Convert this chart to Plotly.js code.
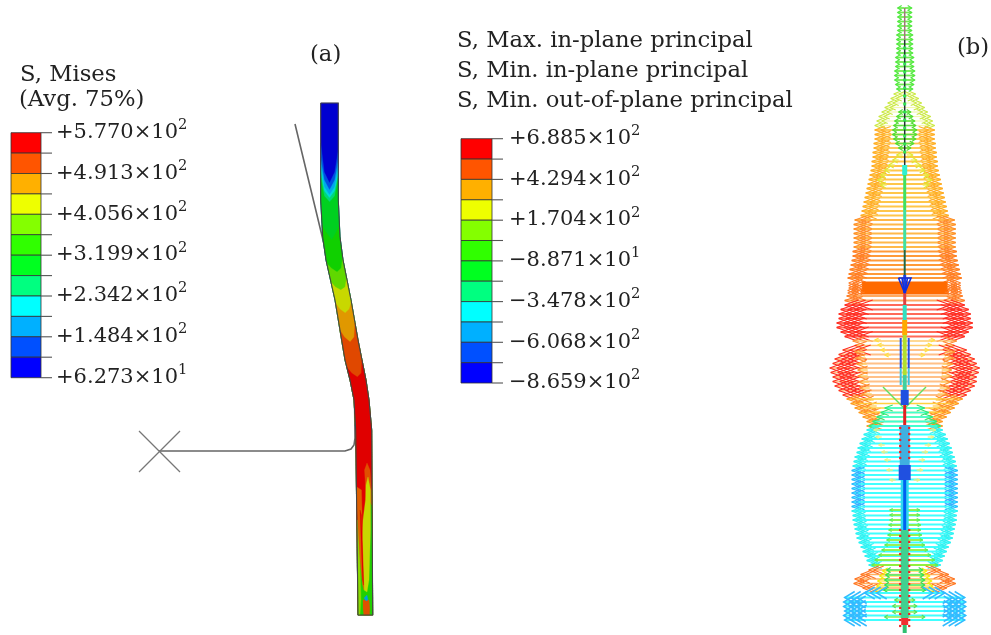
<!DOCTYPE html>
<html><head><meta charset="utf-8">
<script src="https://cdn.plot.ly/plotly-3.0.1.min.js"></script>
<style>html,body{margin:0;padding:0;background:#fff}#c{width:991px;height:635px}#c svg.main-svg{filter:blur(.45px)}</style></head>
<body><div id="c"></div>
<script>
// ---------- legends ----------
const legendColors=['#ff0000','#ff5500','#ffb000','#eeff00','#84ff00','#30ff00','#00ff20','#00ff80','#00ffff','#00b0ff','#0050ff','#0000ff'];
const misesLabels=['+5.770×10<sup>2</sup>','+4.913×10<sup>2</sup>','+4.056×10<sup>2</sup>','+3.199×10<sup>2</sup>','+2.342×10<sup>2</sup>','+1.484×10<sup>2</sup>','+6.273×10<sup>1</sup>'];
const principalLabels=['+6.885×10<sup>2</sup>','+4.294×10<sup>2</sup>','+1.704×10<sup>2</sup>','−8.871×10<sup>1</sup>','−3.478×10<sup>2</sup>','−6.068×10<sup>2</sup>','−8.659×10<sup>2</sup>'];
const misesTicks=[132.7,153.1,173.5,193.9,214.3,234.7,255.2,275.6,296,316.4,336.8,357.2,377.7];
const principalTicks=[138.7,159.1,179.4,199.8,220.2,240.5,260.9,281.2,301.6,322,342.3,362.7,383];
const titleLines=[['S, Mises',20,75],['(Avg. 75%)',19,100],['S, Max. in-plane principal',457,41],['S, Min. in-plane principal',457,71],['S, Min. out-of-plane principal',457,101],['(a)',310,55],['(b)',957,48]];

// ---------- panel (a): strip ----------
const stripY=[103,200,237,260,300,340,360,380,400,430,615];
const stripL=[320.7,320.7,322.7,326,335,341.5,345,350,354,355.7,358];
const stripR=[338.3,338.3,340,343,351,358,362,366,369,371.7,372.7];
const contourColors=['#0000d0','#0050e0','#00a8e8','#00d8d8','#00d878','#00d020','#10d000','#60d800','#c8d800','#e09800','#e04800','#e00000'];
const contourLeftY =[103,143,158,165,172,178,225,263,282,303,330,367];
const contourSideY =[103,172,180,187,191,196,232,268,287,309,337,373];
const contourMidY  =[103,183,190,195,198,202,240,272,290,313,342,377];
const contourRightY=[103,150,160,168,174,178,225,257,278,302,323,360];
const flameGreenX=[371.8,372.7,358,357.5,362,366,369],flameGreenY=[490,615,615,540,560,560,500];
const flameRightX=[367,370,371.5,371.7,366,365,364.5],flameRightY=[463,470,490,505,495,480,470];
const flameYellowX=[368,370.5,370.5,369,367,364,362,363,365.5,366],flameYellowY=[477,490,530,580,592,590,540,520,500,485];
const flameEdgeX=[357,359,360,361,360,358.5,358],flameEdgeY=[520,520,560,600,615,615,560];
const flameOrangeX=[356.8,361.5,362,362.3,364,362.5,360,358.5,357],flameOrangeY=[487,490,510,540,590,585,560,530,510];
const flameRedX=[360,361.5,362.2,363.6,362.6,361],flameRedY=[510,515,540,585,580,545];
const flameFootX=[363,369,369.8,369.5,363.8,363],flameFootY=[600,600,608,615,615,608];
const flameCoreX=[364,367,368,366],flameCoreY=[598,595,600,601];
const contactX=[295,305,315,323,330,338,346,352,354.5,355,354,351,345,159];
const contactY=[124,165,205,240,270,303,340,372,395,438,445,449,451,451];
const crossX=[139,180,null,180,139],crossY=[431,472,null,431,472];

// ---------- panel (b): arrows rows ----------
const centreX=[904.7];
const topGreenY=[8,12.5,17,21.5,26,30.5,35,39.5,44,48.5,53,57.5,62,66.5,71,75.5,80,84.5,89];
const topGreenW=[7,7,7,7,7,7,8,8,8,8,8,9,9,9,10,10,10,9,8];
const shoulderY=[94,98.5,103,107.5,112,116.5,121,125.5];
const shoulderW=[11,14,17,20,23,26,28,30];
const lensY=[112,116.5,121,125.5,130,134.5,139,143.5,148];
const lensW=[6,8,10,11,12,12,11,9,6];
const orangeY=[130,134.5,139,143.5,148,152.5,157,161.5,166,170.5,175,179.5,184,188.5,193,197.5,202,206.5,211,215.5];
const orangeW=[30,30,30,31,31,32,32,33,33,34,35,36,37,38,39,40,41,42,43,44];
const yellowInY=[155,160,165,170,175,180,185];
const yellowInW=[8,12,16,20,24,27,24];
const orangeAY=[220,224.5,229,233.5,238,242.5,247];
const orangeAW=[50,51,51,51,51,51,51];
const orangeBY=[251.5,256,260.5,265,269.5,274,278];
const orangeBW=[52,52,53,54,55,56,57];
const solidY=[283,285.5,288,290.5,293];
const solidW=[56,56,56,57,57];
const orangeCY=[296,300.5];
const orangeCW=[58,60];
const redAY=[305,309.5,314,318.5,323,327.5,332,336.5];
const redAW=[60,64,66,66,68,68,64,60];
const orangeDY=[341,345.5];
const orangeDW=[52,50];
const yellowMidY=[340,345,350,355];
const yellowMidW=[30,27,24,20];
const redBY=[350,354.5,359,363.5,368,372.5,377,381.5,386,390.5,395];
const redBW=[62,66,70,72,75,74,72,72,70,66,62];
const innerOrY=[352,358,364,370,376,382,388,394,400,406,412];
const innerOrW=[50,49,48,47,47,46,45,43,41,38,34];
const taperY=[399,403.5,408,412.5,417,421.5,426];
const taperW=[58,54,50,46,42,38,38];
const cyanTopY=[408,412.5,417,421.5,426];
const cyanTopW=[20,24,28,32,36];
const lensTopY=[430,434.5,439,443.5,448,452.5,457,461.5,466];
const lensTopW=[38,41,43,45,47,48,50,51,52];
const lensMidY=[470.5,475,479.5,484,488.5,493,497.5,502,506.5];
const lensMidW=[53,53,53,53,53,53,53,53,53];
const lensBotY=[511,515.5,520,524.5,529,533.5,538,542.5,547,551.5,556,560.5,565];
const lensBotW=[53,52,52,51,50,49,48,46,44,42,40,38,36];
const yellowLensY=[430,437,445,452,460,470,480];
const yellowLensW=[31,29,26,23,20,18,15];
const greenInY=[510,515,520,525,530,535,540,545,550,555,560,565];
const greenInW=[15,15,15,16,16,17,18,20,23,26,30,33];
const footOrY=[570,574.5,579,583.5,588];
const footOrW=[36,44,50,51,42];
const footYelY=[571,576,581,586,590];
const footYelW=[22,25,27,28,30];
const footGrnY=[570,575,580,585,590];
const footGrnW=[18,19,20,20,21];
const footBlueY=[593,597.5,602,606.5,611,615.5,620];
const footBlueW=[40,60,61,61,60,61,60];
const footSmallY=[600,606,612,617];
const footSmallW=[10,12,12,20];

// spine segments
const spineY0=[8,40,165,175,210,250,275,293,305,320,335,375,390,405,425,465,480,480,530,618,625];
const spineY1=[40,165,175,210,250,275,293,305,320,335,375,390,405,425,465,480,530,530,618,625,633];
const spineC=['#a07878','#223333','#30f0d0','#40e060','#40e0a0','#226644','#2040e0','#e04040','#30e0c0','#ffaa00','#b0e030','#40d0a0','#2050e0','#e02020','#40b0e0','#2050e0','#30d8f0','#0060f0','#40d090','#f03030','#30c070'];
const spineW=[1.5,1.5,5,3,3,2,3,3,4,5,4,4,8,3,10,12,8,3,8,7,4];
const sideY0=[338,368];
const sideY1=[368,385];
const sideC=['#2050e0','#40c0e0'];
const spineDotY=[48,56,64,72,80,88,96,104,112,120,128,136,144,152];
const redDotY=[428,434,440,446,452,458,530,536,542,548,554,560,566,572,578,584,590,596,602,608,614,620,626];
const blueHeadX=[898.5,904.7,911,898.5,null,902,904.7,907.5],blueHeadY=[278,293,278,278,null,278,293,278];
const diagX=[883,903,null,926,906],diagY=[387,407,null,387,407];

const x0=centreX[0];
const traces=[];
function line(x,y,color,width,extra){traces.push(Object.assign({type:'scatter',mode:'lines',x,y,line:{color,width},hoverinfo:'skip',showlegend:false},extra||{}));}
function poly(x,y,color){traces.push({type:'scatter',mode:'lines',x:x.concat([x[0]]),y:y.concat([y[0]]),fill:'toself',fillcolor:color,line:{color,width:0.3},hoverinfo:'skip',showlegend:false});}
function edge(arr,y){for(let i=1;i<stripY.length;i++){if(y<=stripY[i]){const t=(y-stripY[i-1])/(stripY[i]-stripY[i-1]);return arr[i-1]+t*(arr[i]-arr[i-1]);}}return arr[arr.length-1];}
function edgeRun(arr,y){const p=stripY.filter(v=>v>y);const ys=[y].concat(p);return ys.map(v=>[edge(arr,v),v]);}
function rows(ys,ws,o){
  const lx=[],ly=[],hx=[],hy=[];
  const rings=[0].concat(o.rings||[]);
  ys.forEach((y,i)=>{const w=ws[i];
    const s=o.dash?Math.max(w-o.dash,0):0;
    const e=w-(o.stop||0);
    lx.push(x0-e,x0-s,null,x0+s,x0+e,null);ly.push(y,y,null,y,y,null);
    if(o.bl){rings.forEach(r=>{[-1,1].forEach(d=>{hx.push(x0+d*(w-r-o.bl),x0+d*(w-r),x0+d*(w-r-o.bl),null);hy.push(y-o.bh,y,y+o.bh,null);});});}
  });
  line(lx,ly,o.line,o.lw||1.6,{opacity:o.op===undefined?1:o.op});
  if(o.bl)line(hx,hy,o.head,o.hw||1.1);
}
// legends
const cellH=a=>a.slice(1).map((v,i)=>v-a[i]);
function legend(ticks,cx,w,tx,labels){
  traces.push({type:'bar',x:legendColors.map(()=>cx),y:cellH(ticks),base:ticks.slice(0,12),width:legendColors.map(()=>w),marker:{color:legendColors,line:{color:'#333',width:0.8}},hoverinfo:'skip',showlegend:false});
  const tx2=[],ty2=[];ticks.forEach(t=>{tx2.push(cx+w/2,cx+w/2+11,null);ty2.push(t,t,null);});
  line(tx2,ty2,'#555',1.1);
  traces.push({type:'scatter',mode:'text',x:labels.map(()=>tx),y:labels.map((_,i)=>ticks[i*2]),text:labels,textposition:'middle right',textfont:{family:'"DejaVu Serif",serif',size:21,color:'#222'},hoverinfo:'skip',showlegend:false});
}
legend(misesTicks,26,30,56,misesLabels);
legend(principalTicks,476.5,31,509,principalLabels);
traces.push({type:'scatter',mode:'text',x:titleLines.map(t=>t[1]),y:titleLines.map(t=>t[2]),text:titleLines.map(t=>t[0]),textposition:'middle right',textfont:{family:'"DejaVu Serif",serif',size:22.7,color:'#222'},hoverinfo:'skip',showlegend:false});

// panel (a)
line(contactX,contactY,'#666',1.6);
line(crossX,crossY,'#777',1.3);
contourColors.forEach((c,i)=>{
  const l=edgeRun(stripL,contourLeftY[i]),r=edgeRun(stripR,contourRightY[i]).reverse();
  const yS=contourSideY[i],yM=contourMidY[i];
  const lx=edge(stripL,yS),rx=edge(stripR,yS);
  const midx=(edge(stripL,yM)+edge(stripR,yM))/2;
  const pts=[[midx,yM],[lx+(rx-lx)*0.2,yS]].concat(l).concat(r).concat([[rx-(rx-lx)*0.2,yS]]);
  poly(pts.map(p=>p[0]),pts.map(p=>p[1]),c);
});
poly(flameGreenX,flameGreenY,'#20d000');
poly(flameRightX,flameRightY,'#e05000');
poly(flameYellowX,flameYellowY,'#c8d800');
poly(flameEdgeX,flameEdgeY,'#90d800');
poly(flameOrangeX,flameOrangeY,'#e06000');
poly(flameRedX,flameRedY,'#e00000');
poly(flameFootX,flameFootY,'#e05000');
poly(flameCoreX,flameCoreY,'#00a0e0');
const outX=stripL.concat(stripR.slice().reverse(),[stripL[0]]),outY=stripY.concat(stripY.slice().reverse(),[stripY[0]]);
line(outX,outY,'#444',1.1);

// panel (b)
const S=[
 [shoulderY,shoulderW,{line:'#eef490',head:'#c8e840',bl:6,bh:2.5,lw:1.2,op:.7,rings:[5]}],
 [orangeY,orangeW,{line:'#ffc64a',head:'#ffaa22',bl:10,bh:3.5,lw:1.8,rings:[6]}],
 [topGreenY,topGreenW,{line:'#70ee50',head:'#50e840',bl:4,bh:2.5,lw:1.8}],
 [lensY,lensW,{line:'#60e040',head:'#50dd30',bl:4,bh:2.5,lw:1.6}],
 [yellowInY,yellowInW,{line:'#eef060',head:'#e0e830',bl:5,bh:3,lw:1.4,dash:6}],
 [orangeAY,orangeAW,{line:'#ffb848',head:'#ff8a28',bl:12,bh:4,lw:1.8,rings:[6]}],
 [orangeBY,orangeBW,{line:'#ff9a38',head:'#ff7a22',bl:12,bh:4,lw:2,rings:[6]}],
 [solidY,solidW,{line:'#ff6a00',head:'#ff7a22',bl:10,bh:4,lw:2.8,stop:13,rings:[4]}],
 [orangeCY,orangeCW,{line:'#ffaa60',head:'#ff7a22',bl:12,bh:4,lw:1.8,rings:[6]}],
 [redAY,redAW,{line:'#ff6a58',head:'#ff2a20',bl:14,bh:5,lw:1.8,rings:[7,14]}],
 [orangeDY,orangeDW,{line:'#ffcc70',head:'#ff8830',bl:12,bh:4,lw:1.6}],
 [redBY,redBW,{line:'#ffc088',head:'#ff2a20',bl:14,bh:5,lw:1.8,rings:[7,14]}],
 [innerOrY,innerOrW,{line:'#ffd060',head:'#ff9030',bl:10,bh:4,lw:1.4,dash:10,hw:1.2}],
 [yellowMidY,yellowMidW,{line:'#ffe060',head:'#ffe040',bl:4,bh:2,lw:1.4,dash:6}],
 [taperY,taperW,{line:'#ffd040',head:'#ff9020',bl:12,bh:4,lw:1.6,rings:[5]}],
 [cyanTopY,cyanTopW,{line:'#40ffd0',head:'#30e870',bl:8,bh:3,lw:1.8}],
 [lensTopY,lensTopW,{line:'#40ffff',head:'#30f0f0',bl:9,bh:3.5,lw:1.8,rings:[4]}],
 [lensMidY,lensMidW,{line:'#40ffff',head:'#30b0ff',bl:9,bh:3.5,lw:1.8,rings:[4]}],
 [lensBotY,lensBotW,{line:'#40ffff',head:'#30f0f0',bl:9,bh:3.5,lw:1.8,rings:[4]}],
 [yellowLensY,yellowLensW,{line:'#f0f080',head:'#f0f080',bl:3,bh:1.5,lw:1.3,dash:6}],
 [greenInY,greenInW,{line:'#90f040',head:'#50ee60',bl:3,bh:1.5,lw:1.8}],
 [footOrY,footOrW,{line:'#ffb060',head:'#ff7020',bl:10,bh:4,lw:1.6,rings:[5]}],
 [footYelY,footYelW,{line:'#ffe860',head:'#eef000',bl:5,bh:3,lw:1.6}],
 [footGrnY,footGrnW,{line:'#50f070',head:'#30e050',bl:4,bh:2.5,lw:1.6}],
 [footBlueY,footBlueW,{line:'#40ffff',head:'#33bbff',bl:10,bh:6,lw:1.8,hw:1.5,rings:[6,12]}],
 [footSmallY,footSmallW,{line:'#90f050',head:'#50e060',bl:3,bh:2,lw:1.5}]
];
S.forEach(s=>rows(s[0],s[1],s[2]));
line(diagX,diagY,'#60e060',1.5);
spineY0.forEach((y,i)=>line([x0,x0],[y,spineY1[i]],spineC[i],spineW[i]));
sideY0.forEach((y,i)=>{[-4,4].forEach(d=>line([x0+d,x0+d],[y,sideY1[i]],sideC[i],2));});
traces.push({type:'scatter',mode:'markers',x:spineDotY.map(()=>x0),y:spineDotY,marker:{symbol:'square',size:3,color:'#30e050'},hoverinfo:'skip',showlegend:false});
traces.push({type:'scatter',mode:'markers',x:redDotY.flatMap(()=>[x0-4.5,x0+4.5]),y:redDotY.flatMap(y=>[y,y]),marker:{symbol:'square',size:2.2,color:'#f02020'},hoverinfo:'skip',showlegend:false});
line(blueHeadX,blueHeadY,'#1030e0',1.6);

const ax={range:[0,991],visible:false,fixedrange:true};
Plotly.newPlot('c',traces,{
  width:991,height:635,margin:{l:0,r:0,t:0,b:0},paper_bgcolor:'#fff',plot_bgcolor:'#fff',
  barmode:'overlay',showlegend:false,
  xaxis:ax,yaxis:{range:[635,0],visible:false,fixedrange:true}
},{displayModeBar:false,staticPlot:true});
</script></body></html>
